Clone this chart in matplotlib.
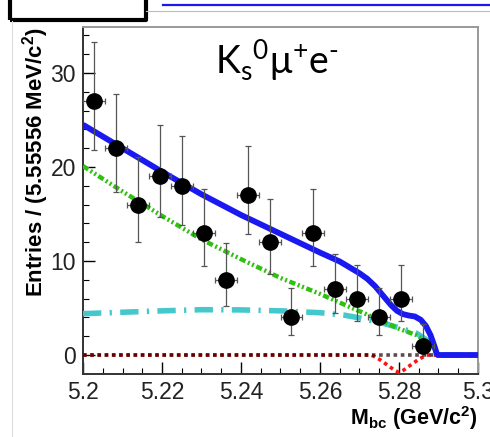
import numpy as np
import matplotlib
matplotlib.use("Agg")
import matplotlib.pyplot as plt
from matplotlib.lines import Line2D
from matplotlib.patches import Rectangle

# ---------------- data ----------------
bin_lo, bin_hi, n_bins = 5.2, 5.3, 18
counts = [27, 22, 16, 19, 18, 13, 8, 17, 12, 4, 13, 7, 6, 4, 6, 1]

# fit curves
total_x = [5.200, 5.210, 5.220, 5.230, 5.240, 5.250, 5.260, 5.265, 5.2700,
           5.2720, 5.2740, 5.2760, 5.2780, 5.2795, 5.2810, 5.2825, 5.2840,
           5.2855, 5.2868, 5.2880, 5.2890, 5.2896, 5.2898, 5.300]
total_y = [24.5, 22.0, 19.5, 17.1, 14.9, 12.9, 10.9, 9.95, 8.7,
           8.1, 7.3, 6.3, 5.3, 4.7, 4.35, 4.2, 4.1,
           3.75, 3.1, 2.1, 0.9, 0.1, 0.0, 0.0]

bkg_x = [5.200, 5.210, 5.220, 5.230, 5.240, 5.250, 5.260, 5.2676, 5.2752,
         5.280, 5.2845, 5.2878, 5.2890, 5.2897, 5.300]
bkg_y = [20.1, 17.4, 14.8, 12.3, 10.2, 8.2, 6.5, 5.1, 3.7,
         2.8, 2.1, 1.2, 0.6, 0.0, 0.0]

peak_x = [5.200, 5.210, 5.220, 5.230, 5.240, 5.250, 5.260, 5.266, 5.270,
          5.275, 5.280, 5.2845, 5.2870, 5.2888, 5.2897, 5.300]
peak_y = [4.4, 4.55, 4.7, 4.82, 4.8, 4.7, 4.5, 4.25, 3.95,
          3.5, 2.9, 2.3, 1.6, 0.7, 0.0, 0.0]

sig_x = [5.200, 5.2730, 5.2750, 5.2770, 5.2788, 5.2800, 5.2812, 5.2830,
         5.2850, 5.2870, 5.300]
sig_y = [0.0, 0.0, -0.45, -1.05, -1.6, -1.85, -1.6, -1.05, -0.45, 0.0, 0.0]

other_x = [5.200, 5.300]
other_y = [0.0, 0.0]

# ---------------- derived ----------------
width = (bin_hi - bin_lo) / n_bins
centers = bin_lo + width * (np.arange(len(counts)) + 0.5)
n = np.array(counts, dtype=float)
# Poisson 68% central interval (Wilson-Hilferty approximation)
lo = n * (1 - 1 / (9 * n) - 1 / (3 * np.sqrt(n))) ** 3
hi = (n + 1) * (1 - 1 / (9 * (n + 1)) + 1 / (3 * np.sqrt(n + 1))) ** 3
yerr = np.vstack([n - lo, hi - n])

# ---------------- figure ----------------
W, H = 490, 437
fig = plt.figure(figsize=(W / 100, H / 100), dpi=100)
ax = fig.add_axes([83 / W, 1 - 374 / H, (478 - 83) / W, (374 - 27) / H])

font = ['Liberation Sans', 'DejaVu Sans']

# zero-level components
ax.plot(sig_x, sig_y, color='#ff1010', lw=2.6, ls=(0, (1, 1)),
        dash_capstyle='butt', zorder=3)
ax.plot(other_x, other_y, color='#1a0000', lw=2.6, ls=(0, (1, 1)),
        dash_capstyle='butt', alpha=0.7, zorder=3.1)
# peaking background (cyan dash-dot)
ax.plot(peak_x, peak_y, color='#45c8cc', lw=4.0, ls=(0, (3.3, 1.5, 0.4, 1.5)),
        dash_capstyle='butt', zorder=4)
# combinatorial background (green)
ax.plot(bkg_x, bkg_y, color='#2fc010', lw=3.2,
        ls=(0, (1.4, 0.6, 0.45, 0.6, 0.45, 0.6)), dash_capstyle='butt', zorder=5)
# total fit
ax.plot(total_x, total_y, color='#1a1af0', lw=4.2, solid_capstyle='butt',
        zorder=6)

# data
ax.errorbar(centers, n, yerr=yerr, xerr=width / 2, fmt='o', color='black',
            markersize=11, ecolor='#555555', elinewidth=0.9, capsize=2.2,
            capthick=0.9, zorder=10)

ax.set_xlim(5.2, 5.3)
ax.set_ylim(-2.02, 34.9)
ax.set_xticks([5.2, 5.22, 5.24, 5.26, 5.28, 5.3])
ax.set_xticklabels(['5.2', '5.22', '5.24', '5.26', '5.28', '5.3'])
ax.set_xticks(np.arange(5.2, 5.3001, 0.005), minor=True)
ax.set_yticks([0, 10, 20, 30])
ax.set_yticks(np.arange(0, 35, 2), minor=True)

ax.tick_params(axis='both', which='major', direction='in', length=8.5,
               width=1.0, labelsize=16.5, pad=5, top=False, right=False)
ax.tick_params(axis='both', which='minor', direction='in', length=4.5,
               width=0.8, top=False, right=False)
for lab in ax.get_xticklabels() + ax.get_yticklabels():
    lab.set_family(font)
    lab.set_color('#222222')

for s in ['left', 'bottom']:
    ax.spines[s].set_color('#333333')
    ax.spines[s].set_linewidth(1.4)
for s in ['top', 'right']:
    ax.spines[s].set_color('#999999')
    ax.spines[s].set_linewidth(1.4)

ax.set_ylabel(r'Entries / (5.55556 MeV/c$^\mathregular{2}$)', fontsize=16,
              fontweight='bold', family=font, loc='top', labelpad=0)
ax.set_xlabel(r'M$_\mathregular{bc}$ (GeV/c$^\mathregular{2}$)', fontsize=15.5,
              fontweight='bold', family=font, loc='right', labelpad=0)

fig.text(215 / W, 1 - 75 / H,
         r'K$_\mathregular{s}$$^\mathregular{0}$μ$^\mathregular{+}$e$^\mathregular{‐}$',
         fontsize=27, family=['Lato', 'DejaVu Sans'], va='baseline', ha='left')

# page decorations around the crop
fig.add_artist(Rectangle((10 / W, 1 - 20 / H), (146 - 10) / W, 30 / H,
                         transform=fig.transFigure, fill=False, lw=3,
                         edgecolor='black', joinstyle='round'))
fig.add_artist(Line2D([163 / W, 1], [1 - 4.7 / H, 1 - 4.7 / H],
                      transform=fig.transFigure, color='#1a1af0', lw=1.6))
fig.add_artist(Line2D([146 / W, 1], [1 - 11 / H, 1 - 11 / H],
                      transform=fig.transFigure, color='#bbbbbb', lw=0.8))
fig.add_artist(Line2D([12 / W, 12 / W], [0, 1 - 21 / H],
                      transform=fig.transFigure, color='#dddddd', lw=0.8))

fig.savefig('out.png', dpi=100)
